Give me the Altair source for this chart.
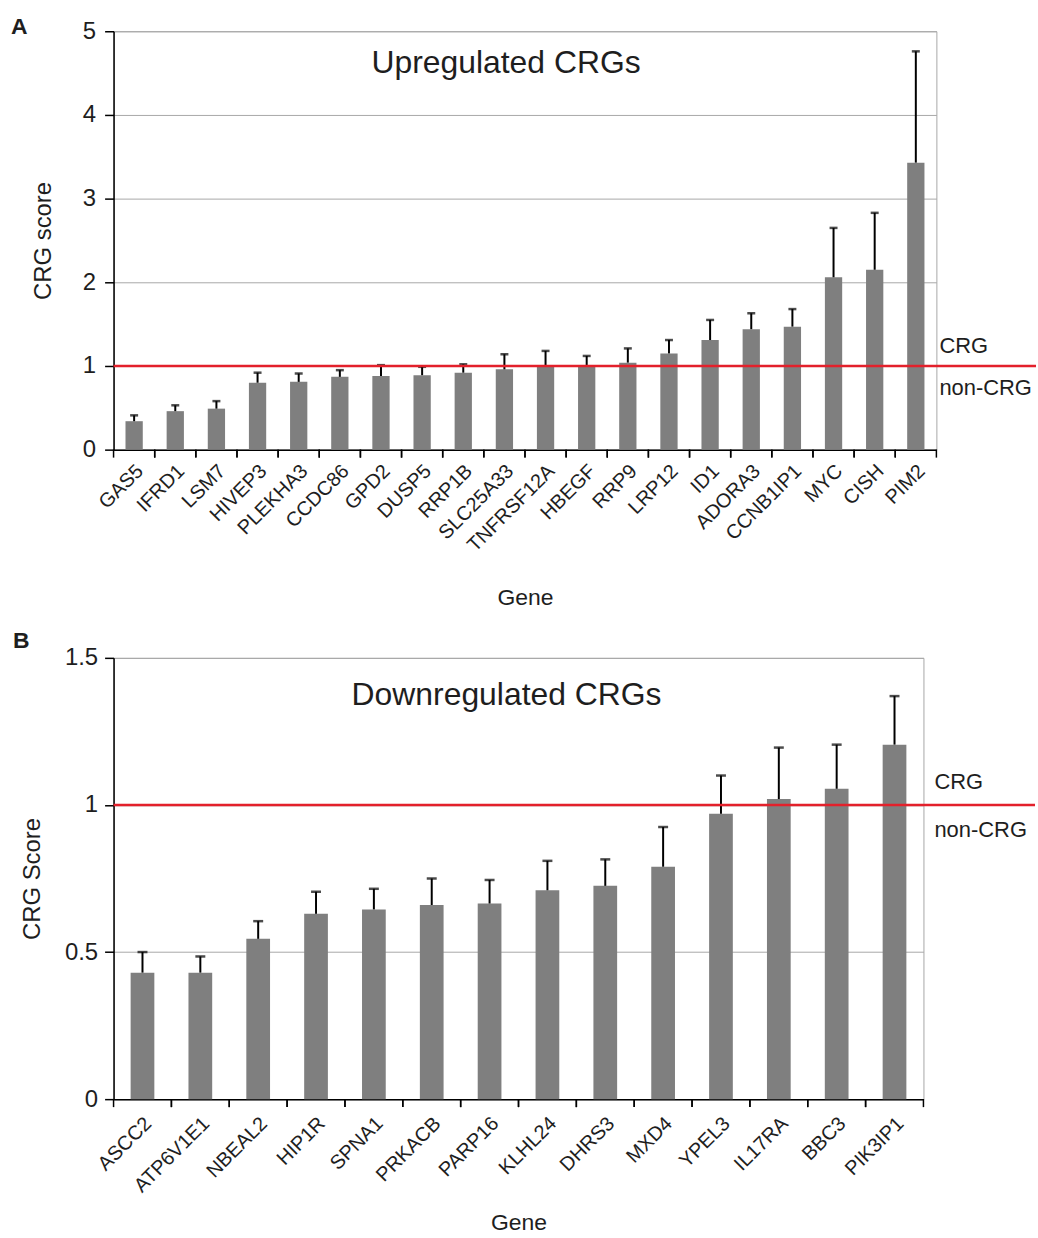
import altair as alt
import pandas as pd

# Panel A: genes whose CRG score rises
up_genes = ["GAS5", "IFRD1", "LSM7", "HIVEP3", "PLEKHA3", "CCDC86", "GPD2", "DUSP5",
            "RRP1B", "SLC25A33", "TNFRSF12A", "HBEGF", "RRP9", "LRP12", "ID1", "ADORA3",
            "CCNB1IP1", "MYC", "CISH", "PIM2"]
up_score = [0.34, 0.46, 0.49, 0.80, 0.81, 0.87, 0.88, 0.89, 0.92, 0.96, 1.00, 0.99,
            1.04, 1.15, 1.31, 1.44, 1.47, 2.06, 2.15, 3.43]
up_err = [0.07, 0.07, 0.09, 0.12, 0.10, 0.08, 0.13, 0.10, 0.10, 0.18, 0.18, 0.13,
          0.17, 0.16, 0.24, 0.19, 0.21, 0.59, 0.68, 1.33]
up_ticks = [0, 1, 2, 3, 4, 5]

# Panel B: genes whose CRG score falls
down_genes = ["ASCC2", "ATP6V1E1", "NBEAL2", "HIP1R", "SPNA1", "PRKACB", "PARP16",
              "KLHL24", "DHRS3", "MXD4", "YPEL3", "IL17RA", "BBC3", "PIK3IP1"]
down_score = [0.43, 0.43, 0.545, 0.63, 0.645, 0.66, 0.665, 0.71, 0.725, 0.79, 0.97,
              1.02, 1.055, 1.205]
down_err = [0.07, 0.055, 0.06, 0.075, 0.07, 0.09, 0.08, 0.10, 0.09, 0.135, 0.13,
            0.175, 0.15, 0.165]
down_ticks = [0, 0.5, 1, 1.5]

THRESHOLD = 1.0
FONT = "Liberation Sans"
TEXT = "#1e1e1e"


def panel(genes, score, err, ticks, ytitle, ytitle_pad, tick_pad, heading, head_dx, head_y,
          letter, letter_x, letter_y, w, h, cap, bar_frac, crg_dy, note_x, line_end,
          label_pad, gene_pad):
    df = pd.DataFrame({
        "gene": genes,
        "score": score,
        "upper": [s + e for s, e in zip(score, err)],
    })
    base = alt.Chart(df)
    xscale = alt.Scale(paddingInner=0, paddingOuter=0)

    x = alt.X("gene:N", sort=genes, scale=xscale,
              axis=alt.Axis(title="Gene", labelAngle=-45, labelAlign="right",
                            labelBaseline="middle", ticks=False, labelPadding=label_pad,
                            labelOffset=6, labelFontSize=20, labelColor=TEXT,
                            titleFontSize=23, titleFontWeight="normal", titleColor=TEXT,
                            titlePadding=gene_pad, domainColor="black", domainWidth=1.5,
                            grid=False))
    y = alt.Y("score:Q", scale=alt.Scale(domain=[ticks[0], ticks[-1]], nice=False),
              axis=alt.Axis(title=ytitle, values=ticks, labelExpr="datum.value",
                            labelFontSize=24, labelColor=TEXT, labelPadding=tick_pad,
                            tickColor="black", tickSize=9, tickWidth=1.5,
                            domainColor="black", domainWidth=1.5,
                            grid=True, gridColor="#a8a8a8", gridWidth=1,
                            titleFontSize=24, titleFontWeight="normal", titleColor=TEXT,
                            minExtent=40, maxExtent=40, titlePadding=ytitle_pad))

    bars = base.mark_bar(color="#7f7f7f", width=alt.RelativeBandSize(bar_frac)).encode(x=x, y=y)
    whisker = base.mark_rule(color="black", strokeWidth=2).encode(
        x=alt.X("gene:N", sort=genes), y="score:Q", y2="upper:Q")
    caps = base.mark_tick(color="black", thickness=2.5, size=cap).encode(
        x=alt.X("gene:N", sort=genes), y="upper:Q")

    # category separators below the baseline
    sep_left = base.mark_rule(color="black", strokeWidth=1.5).encode(
        x=alt.X("gene:N", sort=genes, bandPosition=0), y=alt.value(h), y2=alt.value(h + 8))
    sep_right = base.mark_rule(color="black", strokeWidth=1.5).encode(
        x=alt.X("gene:N", sort=genes, bandPosition=1), y=alt.value(h), y2=alt.value(h + 8))

    one = pd.DataFrame({"k": [0]})
    red = alt.Chart(one).mark_rule(color="#e3202b", strokeWidth=2.5).encode(
        y=alt.datum(THRESHOLD), x=alt.value(0), x2=alt.value(line_end))
    crg = alt.Chart(one).mark_text(align="left", baseline="middle", dy=-crg_dy, fontSize=22,
                                   color=TEXT, font=FONT).encode(
        y=alt.datum(THRESHOLD), x=alt.value(note_x), text=alt.value("CRG"))
    non = alt.Chart(one).mark_text(align="left", baseline="middle", dy=crg_dy + 2, fontSize=22,
                                   color=TEXT, font=FONT).encode(
        y=alt.datum(THRESHOLD), x=alt.value(note_x), text=alt.value("non-CRG"))
    head = alt.Chart(one).mark_text(align="center", baseline="middle", fontSize=32,
                                    color=TEXT, font=FONT).encode(
        x=alt.value(w / 2 + head_dx), y=alt.value(head_y), text=alt.value(heading))
    tag = alt.Chart(one).mark_text(align="left", baseline="top", fontSize=23,
                                   fontWeight="bold", color=TEXT, font=FONT).encode(
        x=alt.value(letter_x), y=alt.value(letter_y), text=alt.value(letter))

    return alt.layer(bars, whisker, caps, sep_left, sep_right, red, crg, non, head, tag
                     ).properties(width=w, height=h)


top = panel(up_genes, up_score, up_err, up_ticks, "CRG score", 18, 9, "Upregulated CRGs",
            -19, 32, "A", -103, -15, 826, 420, 8, 0.42, 20, 829, 926, 18, 31)
bottom = panel(down_genes, down_score, down_err, down_ticks, "CRG Score", 29, 7,
               "Downregulated CRGs", -12, 37, "B", -101, -28, 813, 443, 10, 0.41, 23,
               824, 925, 21, 16)

chart = alt.vconcat(top, bottom, spacing=19).properties(
    padding={"left": 10, "top": 13, "right": 0, "bottom": 0}
).configure(font=FONT).configure_view(stroke="#a8a8a8", strokeWidth=1)

chart.save("out.html", embed_options={"renderer": "svg", "actions": False})
